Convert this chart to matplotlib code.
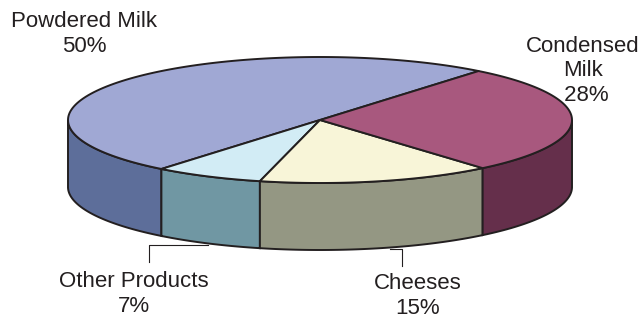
import numpy as np
import matplotlib.pyplot as plt
from matplotlib.patches import Polygon

plt.rcParams['font.family'] = ['Liberation Sans', 'DejaVu Sans']

labels = ["Powdered Milk", "Other Products", "Cheeses", "Condensed\nMilk"]
shares = [50, 7, 15, 28]
top_colors = ["#A0A8D4", "#D2ECF5", "#F8F5D8", "#A8587E"]
side_colors = ["#5D6E9A", "#7097A3", "#949783", "#652F4B"]

# pie geometry in pixel space
CX, CY = 320, 120
A, B = 252, 63
DEPTH = 67
START = 51.0
EDGE = "#231F20"


def pt(t, dy=0.0):
    r = np.radians(t)
    return CX + A * np.cos(r), CY - B * np.sin(r) + dy


fig = plt.figure(figsize=(6.43, 3.2), dpi=100)
ax = fig.add_axes([0, 0, 1, 1])
ax.set_xlim(0, 643)
ax.set_ylim(320, 0)
ax.axis("off")

# slice angle ranges (counter-clockwise from START)
bounds = START + np.concatenate([[0], np.cumsum(shares)]) * 3.6
slices = list(zip(bounds[:-1], bounds[1:]))

# sides (front half only: 180..360)
for (t0, t1), c in zip(slices, side_colors):
    for off in (0, 360):
        a0, a1 = max(t0, 180 + off), min(t1, 360 + off)
        if a1 <= a0:
            continue
        ts = np.linspace(a0, a1, 80)
        top = [pt(t) for t in ts]
        bot = [pt(t, DEPTH) for t in ts[::-1]]
        ax.add_patch(Polygon(top + bot, closed=True, fc=c, ec=EDGE, lw=1.4, zorder=2))

# top faces
for (t0, t1), c in zip(slices, top_colors):
    ts = np.linspace(t0, t1, 120)
    poly = [(CX, CY)] + [pt(t) for t in ts]
    ax.add_patch(Polygon(poly, closed=True, fc=c, ec=EDGE, lw=1.4, zorder=3,
                         joinstyle="round"))

# leader lines
mid_other = np.mean(slices[1])
x0, y0 = pt(mid_other, DEPTH)
ax.plot([x0, 149, 149], [y0 + 2, y0 + 2, 262], color=EDGE, lw=0.8, zorder=1)
mid_ch = np.mean(slices[2]) + 3
x1, y1 = pt(mid_ch, DEPTH)
ax.plot([x1, 402, 402], [y1 + 2, y1 + 2, 266], color=EDGE, lw=0.8, zorder=1)

fs = 16
txt = dict(fontsize=fs, color="#231F20", ha="center", va="center", linespacing=1.2)
ax.text(84, 34, f"{labels[0]}\n{shares[0]}%", **txt)
ax.text(583, 71, f"{labels[3]}\n {shares[3]}%", **txt)
ax.text(134, 294, f"{labels[1]}\n{shares[1]}%", **txt)
ax.text(418, 296, f"{labels[2]}\n{shares[2]}%", **txt)

fig.savefig("out.png", dpi=100)
